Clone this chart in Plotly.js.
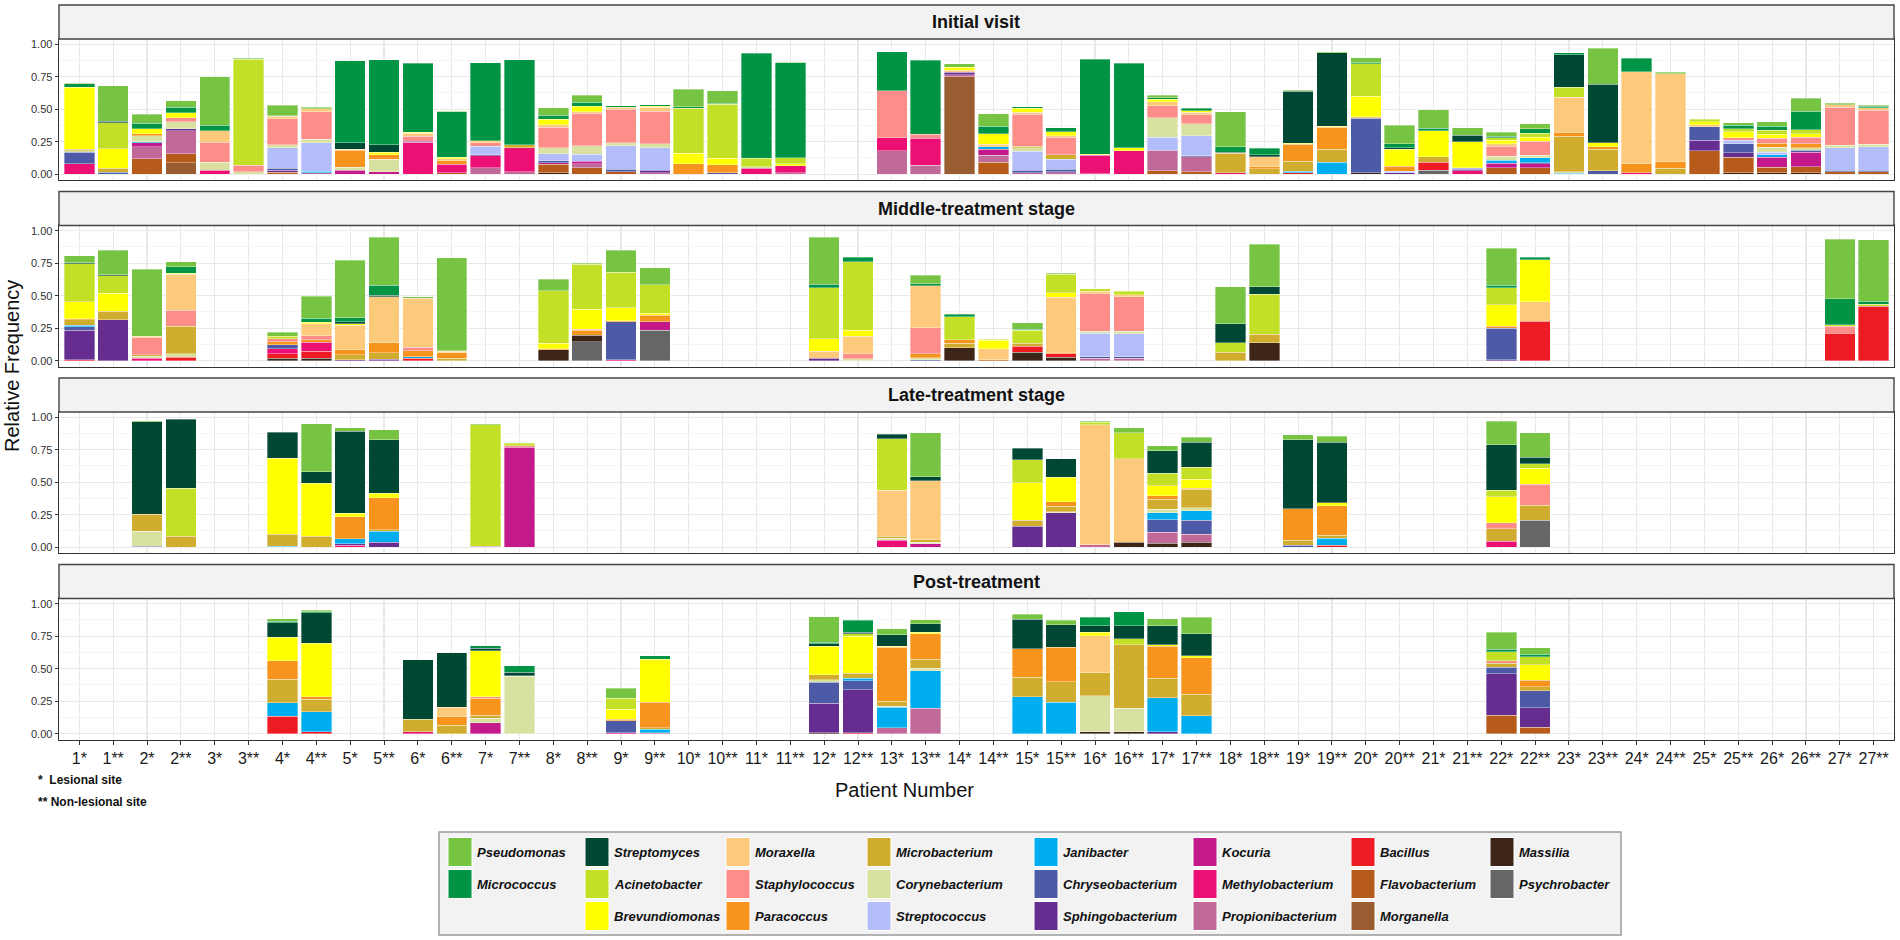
<!DOCTYPE html>
<html>
<head>
<meta charset="utf-8">
<script src="https://cdn.plot.ly/plotly-3.0.1.min.js"></script>
<style>
  html, body { margin: 0; padding: 0; background: #fff; }
  #plot { width: 1900px; height: 940px; }
</style>
</head>
<body>
<div id="plot"></div>
<script>
(function (document, window) {

    // Patient samples (* lesional, ** non-lesional)
    const categories = [
        '1*', '1**', '2*', '2**', '3*', '3**', '4*', '4**', '5*', '5**',
        '6*', '6**', '7*', '7**', '8*', '8**', '9*', '9**', '10*', '10**',
        '11*', '11**', '12*', '12**', '13*', '13**', '14*', '14**', '15*', '15**',
        '16*', '16**', '17*', '17**', '18*', '18**', '19*', '19**', '20*', '20**',
        '21*', '21**', '22*', '22**', '23*', '23**', '24*', '24**', '25*', '25**',
        '26*', '26**', '27*', '27**'
    ];

    // Genera in legend order (first one sits on top of each stack)
    const generaCodes = ['Pseu', 'Micr', 'Strm', 'Acin', 'Brev', 'Mora', 'Stap', 'Para', 'Micb', 'Cory', 'Strc',
        'Jani', 'Chry', 'Sphi', 'Koc', 'Meth', 'Prop', 'Baci', 'Flav', 'Morg', 'Mass', 'Psyc'];
    const generaNames = ['Pseudomonas', 'Micrococcus', 'Streptomyces', 'Acinetobacter', 'Brevundiomonas',
        'Moraxella', 'Staphylococcus', 'Paracoccus', 'Microbacterium', 'Corynebacterium', 'Streptococcus',
        'Janibacter', 'Chryseobacterium', 'Sphingobacterium', 'Kocuria', 'Methylobacterium',
        'Propionibacterium', 'Bacillus', 'Flavobacterium', 'Morganella', 'Massilia', 'Psychrobacter'];
    const generaColors = ['#76c442', '#009444', '#004833', '#c3df26', '#ffff00',
        '#fdc97a', '#fc8d88', '#f7941d', '#d1ad2f', '#d9e1a0', '#b2bdfa',
        '#00aeef', '#4d5ba6', '#652d90', '#c4198b', '#ec0f74',
        '#c16a9a', '#ed1c24', '#b65b1a', '#9a5d31', '#3d2517', '#666666'];

    const stageTitles = ['Initial visit', 'Middle-treatment stage', 'Late-treatment stage', 'Post-treatment'];

    const initialVisit = [
        ['1*', { Meth: .08, Chry: .09, Micb: .01, Cory: .01, Brev: .48, Micr: .025, Pseu: .005 }],
        ['1**', { Chry: .015, Micb: .03, Brev: .15, Acin: .2, Strm: .012, Pseu: .275 }],
        ['2*', { Flav: .12, Prop: .09, Koc: .03, Jani: .01, Cory: .045, Para: .015, Brev: .04, Micr: .04, Pseu: .07 }],
        ['2**', { Morg: .088, Flav: .07, Prop: .175, Sphi: .015, Cory: .055, Stap: .03, Brev: .04, Micr: .04, Pseu: .05 }],
        ['3*', { Meth: .03, Cory: .06, Stap: .155, Mora: .09, Micr: .04, Pseu: .375 }],
        ['3**', { Cory: .02, Stap: .05, Acin: .815, Pseu: .008 }],
        ['4*', { Flav: .015, Sphi: .015, Chry: .015, Strc: .16, Cory: .02, Stap: .2, Mora: .02, Brev: .005, Pseu: .08 }],
        ['4**', { Prop: .012, Jani: .01, Strc: .22, Cory: .025, Stap: .215, Mora: .02, Pseu: .012 }],
        ['5*', { Koc: .03, Cory: .025, Para: .13, Mora: .008, Strm: .05, Micr: .63 }],
        ['5**', { Koc: .02, Cory: .095, Para: .035, Brev: .018, Strm: .06, Micr: .653 }],
        ['6*', { Meth: .245, Sphi: .008, Stap: .04, Mora: .02, Brev: .008, Micr: .532 }],
        ['6**', { Flav: .01, Meth: .065, Para: .03, Mora: .015, Brev: .01, Micr: .35, Pseu: .005 }],
        ['7*', { Prop: .05, Meth: .09, Sphi: .008, Strc: .065, Stap: .03, Mora: .013, Micr: .6 }],
        ['7**', { Prop: .02, Meth: .185, Micb: .02, Micr: .655 }],
        ['8*', { Mass: .012, Flav: .065, Koc: .012, Chry: .013, Strc: .055, Cory: .045, Stap: .16, Mora: .02, Brev: .04, Micr: .03, Pseu: .06 }],
        ['8**', { Flav: .05, Prop: .03, Koc: .02, Strc: .055, Cory: .065, Stap: .25, Mora: .012, Brev: .04, Micr: .03, Pseu: .055 }],
        ['9*', { Flav: .02, Chry: .018, Strc: .18, Cory: .025, Stap: .255, Mora: .018, Micr: .012 }],
        ['9**', { Prop: .012, Sphi: .018, Strc: .175, Cory: .03, Stap: .25, Mora: .03, Brev: .008, Micr: .012 }],
        ['10*', { Para: .082, Brev: .077, Acin: .35, Micr: .01, Pseu: .136 }],
        ['10**', { Chry: .012, Para: .06, Brev: .05, Acin: .415, Micr: .01, Pseu: .093 }],
        ['11*', { Meth: .045, Cory: .012, Acin: .065, Micr: .808 }],
        ['11**', { Prop: .012, Meth: .054, Brev: .015, Acin: .045, Micr: .73, Pseu: .005 }],
        ['13*', { Prop: .18, Meth: .1, Stap: .36, Micr: .303 }],
        ['13**', { Prop: .067, Meth: .21, Stap: .03, Micr: .57 }],
        ['14*', { Morg: .75, Prop: .015, Sphi: .018, Mora: .018, Brev: .02, Pseu: .03 }],
        ['14**', { Flav: .09, Prop: .055, Koc: .045, Jani: .02, Mora: .02, Brev: .08, Micr: .057, Pseu: .098 }],
        ['15*', { Prop: .01, Chry: .02, Strc: .145, Cory: .03, Micb: .01, Stap: .245, Mora: .018, Brev: .028, Micr: .012 }],
        ['15**', { Prop: .01, Sphi: .01, Chry: .018, Strc: .077, Micb: .033, Stap: .135, Mora: .013, Brev: .03, Micr: .033 }],
        ['16*', { Prop: .005, Meth: .14, Brev: .008, Micr: .73 }],
        ['16**', { Meth: .18, Brev: .025, Micr: .65 }],
        ['17*', { Flav: .025, Prop: .155, Sphi: .005, Strc: .1, Cory: .15, Stap: .09, Mora: .033, Brev: .018, Micr: .013, Pseu: .018 }],
        ['17**', { Flav: .018, Prop: .115, Chry: .008, Strc: .155, Cory: .09, Stap: .072, Mora: .018, Brev: .013, Micr: .02 }],
        ['18*', { Meth: .01, Micb: .15, Strm: .008, Micr: .044, Pseu: .27 }],
        ['18**', { Micb: .04, Para: .018, Mora: .077, Strm: .015, Micr: .05 }],
        ['19*', { Baci: .012, Jani: .012, Micb: .077, Para: .128, Brev: .008, Strm: .4, Pseu: .01 }],
        ['19**', { Jani: .09, Micb: .1, Para: .17, Brev: .008, Strm: .565, Pseu: .008 }],
        ['20*', { Mass: .012, Chry: .42, Mora: .01, Brev: .157, Acin: .25, Micr: .01, Pseu: .036 }],
        ['20**', { Sphi: .012, Strc: .01, Para: .04, Brev: .128, Strm: .012, Micr: .032, Pseu: .144 }],
        ['21*', { Psyc: .03, Baci: .06, Micb: .045, Brev: .2, Micr: .018, Pseu: .144 }],
        ['21**', { Meth: .025, Sphi: .012, Strc: .012, Brev: .2, Strm: .05, Pseu: .057 }],
        ['22*', { Flav: .05, Koc: .033, Jani: .023, Cory: .033, Stap: .077, Mora: .018, Brev: .025, Acin: .02, Micr: .013, Pseu: .03 }],
        ['22**', { Flav: .05, Koc: .03, Sphi: .008, Jani: .038, Cory: .02, Stap: .108, Brev: .03, Acin: .03, Micr: .036, Pseu: .038 }],
        ['23*', { Jani: .008, Cory: .012, Micb: .27, Para: .033, Mora: .27, Acin: .077, Strm: .25, Micr: .013 }],
        ['23**', { Chry: .025, Micb: .167, Para: .02, Brev: .03, Strm: .45, Pseu: .278 }],
        ['24*', { Meth: .012, Para: .07, Mora: .707, Micr: .103 }],
        ['24**', { Micb: .046, Para: .051, Mora: .674, Pseu: .013 }],
        ['25*', { Flav: .18, Sphi: .082, Chry: .103, Mora: .015, Brev: .025, Acin: .018 }],
        ['25**', { Mass: .012, Flav: .12, Sphi: .033, Chry: .07, Strc: .025, Stap: .02, Brev: .046, Acin: .025, Micr: .025, Pseu: .02 }],
        ['26*', { Mass: .012, Flav: .04, Koc: .077, Jani: .02, Strc: .018, Cory: .04, Para: .03, Stap: .04, Brev: .03, Acin: .03, Micr: .033, Pseu: .033 }],
        ['26**', { Mass: .012, Flav: .045, Koc: .11, Chry: .018, Cory: .02, Para: .03, Stap: .05, Brev: .025, Acin: .033, Micr: .14, Pseu: .103 }],
        ['27*', { Flav: .02, Chry: .01, Strc: .175, Cory: .018, Stap: .29, Mora: .02, Pseu: .013 }],
        ['27**', { Flav: .02, Chry: .01, Strc: .18, Cory: .02, Stap: .262, Mora: .02, Micr: .01, Pseu: .008 }]
    ];

    const middleTreatment = [
        ['1*', { Baci: .008, Sphi: .225, Chry: .026, Jani: .013, Micb: .044, Para: .008, Brev: .13, Acin: .29, Strm: .01, Pseu: .052 }],
        ['1**', { Sphi: .315, Micb: .065, Brev: .137, Acin: .137, Strm: .008, Pseu: .186 }],
        ['2*', { Meth: .02, Cory: .013, Micb: .013, Stap: .13, Mora: .01, Pseu: .517 }],
        ['2**', { Baci: .026, Cory: .026, Micb: .214, Stap: .12, Mora: .28, Brev: .008, Micr: .05, Pseu: .036 }],
        ['4*', { Mass: .018, Baci: .034, Meth: .04, Chry: .03, Para: .023, Stap: .023, Acin: .018, Pseu: .034 }],
        ['4**', { Mass: .02, Baci: .052, Meth: .07, Para: .018, Stap: .03, Mora: .093, Brev: .013, Micr: .03, Pseu: .168 }],
        ['5*', { Sphi: .008, Micb: .039, Para: .036, Mora: .189, Brev: .013, Strm: .013, Micr: .031, Pseu: .442 }],
        ['5**', { Sphi: .01, Micb: .049, Para: .078, Mora: .354, Strm: .013, Micr: .078, Pseu: .367 }],
        ['6*', { Baci: .02, Jani: .01, Para: .046, Stap: .026, Mora: .38, Pseu: .008 }],
        ['6**', { Micb: .018, Para: .041, Mora: .013, Micr: .005, Pseu: .716 }],
        ['8*', { Mass: .083, Para: .008, Brev: .044, Acin: .403, Pseu: .09 }],
        ['8**', { Psyc: .147, Mass: .047, Para: .039, Stap: .01, Brev: .152, Acin: .346, Pseu: .008 }],
        ['9*', { Meth: .008, Chry: .29, Para: .008, Brev: .1, Acin: .274, Pseu: .168 }],
        ['9**', { Psyc: .233, Koc: .065, Para: .052, Brev: .013, Acin: .22, Pseu: .13 }],
        ['12*', { Sphi: .018, Mora: .054, Brev: .096, Acin: .393, Micr: .028, Pseu: .362 }],
        ['12**', { Cory: .013, Stap: .039, Mora: .134, Brev: .047, Acin: .53, Micr: .034 }],
        ['13**', { Chry: .008, Cory: .013, Para: .031, Stap: .2, Mora: .323, Micr: .016, Pseu: .065 }],
        ['14*', { Mass: .098, Micb: .036, Para: .026, Acin: .176, Micr: .021 }],
        ['14**', { Flav: .008, Mora: .083, Brev: .065, Acin: .008, Micr: .005 }],
        ['15*', { Mass: .065, Baci: .047, Micb: .023, Acin: .098, Micr: .008, Pseu: .049 }],
        ['15**', { Mass: .026, Baci: .026, Para: .013, Mora: .421, Brev: .036, Acin: .142, Pseu: .008 }],
        ['16*', { Prop: .02, Chry: .01, Strc: .181, Cory: .015, Stap: .289, Mora: .018, Acin: .021 }],
        ['16**', { Prop: .02, Chry: .01, Strc: .176, Cory: .02, Stap: .264, Mora: .018, Acin: .026 }],
        ['18*', { Micb: .065, Acin: .072, Strm: .147, Pseu: .284 }],
        ['18**', { Mass: .137, Micb: .065, Acin: .31, Strm: .057, Pseu: .328 }],
        ['22*', { Sphi: .008, Chry: .243, Para: .015, Brev: .165, Acin: .13, Micr: .02, Pseu: .284 }],
        ['22**', { Baci: .302, Mora: .15, Brev: .323, Micr: .02 }],
        ['27*', { Baci: .212, Stap: .052, Acin: .013, Micr: .2, Pseu: .457 }],
        ['27**', { Baci: .42, Acin: .013, Micr: .026, Pseu: .47 }]
    ];

    const lateTreatment = [
        ['2*', { Chry: .008, Cory: .114, Micb: .132, Strm: .711, Pseu: .008 }],
        ['2**', { Micb: .083, Acin: .37, Strm: .532 }],
        ['4*', { Jani: .008, Micb: .09, Brev: .587, Strm: .199 }],
        ['4**', { Micb: .083, Brev: .408, Strm: .09, Pseu: .37 }],
        ['5*', { Meth: .013, Sphi: .013, Jani: .039, Para: .168, Brev: .026, Strm: .633, Pseu: .026 }],
        ['5**', { Sphi: .039, Jani: .085, Micb: .01, Para: .245, Brev: .034, Strm: .413, Pseu: .078 }],
        ['7*', { Prop: .008, Acin: .935, Pseu: .008 }],
        ['7**', { Koc: .77, Stap: .01, Acin: .02 }],
        ['13*', { Meth: .052, Cory: .018, Micb: .015, Mora: .354, Acin: .395, Strm: .036 }],
        ['13**', { Koc: .026, Cory: .013, Micb: .018, Mora: .455, Strm: .031, Pseu: .336 }],
        ['15*', { Sphi: .16, Micb: .047, Brev: .29, Acin: .176, Strm: .09 }],
        ['15**', { Sphi: .264, Cory: .008, Micb: .044, Para: .034, Brev: .189, Strm: .142 }],
        ['16*', { Prop: .02, Mora: .922, Acin: .02, Pseu: .008 }],
        ['16**', { Mass: .039, Mora: .641, Acin: .199, Pseu: .039 }],
        ['17*', { Mass: .031, Prop: .085, Chry: .096, Jani: .052, Cory: .026, Micb: .078, Para: .026, Brev: .078, Acin: .098, Strm: .173, Pseu: .039 }],
        ['17**', { Mass: .036, Prop: .062, Chry: .109, Jani: .072, Cory: .026, Micb: .14, Para: .008, Brev: .07, Acin: .093, Strm: .191, Pseu: .039 }],
        ['19*', { Chry: .013, Micb: .039, Para: .245, Strm: .53, Pseu: .039 }],
        ['19**', { Baci: .013, Jani: .057, Micb: .02, Para: .227, Brev: .026, Strm: .465, Pseu: .044 }],
        ['22*', { Meth: .047, Micb: .096, Stap: .044, Brev: .2, Acin: .052, Strm: .349, Pseu: .181 }],
        ['22**', { Psyc: .207, Micb: .116, Stap: .16, Brev: .124, Acin: .034, Strm: .052, Pseu: .186 }]
    ];

    const postTreatment = [
        ['4*', { Baci: .134, Jani: .103, Micb: .181, Para: .142, Brev: .181, Strm: .111, Micr: .013, Pseu: .018 }],
        ['4**', { Baci: .013, Jani: .155, Micb: .096, Para: .02, Brev: .413, Strm: .233, Micr: .008, Pseu: .01 }],
        ['6*', { Meth: .013, Micb: .098, Strm: .457 }],
        ['6**', { Micb: .065, Para: .065, Mora: .072, Strm: .419 }],
        ['7*', { Koc: .083, Cory: .034, Micb: .026, Para: .129, Stap: .013, Brev: .354, Strm: .02, Micr: .018 }],
        ['7**', { Cory: .44, Micb: .005, Strm: .026, Micr: .052 }],
        ['9*', { Meth: .008, Chry: .09, Para: .013, Brev: .075, Acin: .085, Pseu: .078 }],
        ['9**', { Prop: .008, Jani: .026, Micb: .01, Para: .196, Brev: .333, Micr: .028 }],
        ['12*', { Mass: .008, Sphi: .225, Chry: .163, Cory: .018, Micb: .039, Brev: .22, Strm: .02, Micr: .01, Pseu: .196 }],
        ['12**', { Baci: .008, Sphi: .328, Chry: .072, Jani: .018, Micb: .039, Brev: .284, Acin: .02, Strm: .01, Micr: .093 }],
        ['13*', { Prop: .044, Jani: .158, Cory: .01, Micb: .039, Para: .413, Brev: .008, Strm: .09, Pseu: .044 }],
        ['13**', { Prop: .194, Jani: .289, Cory: .02, Micb: .07, Para: .196, Brev: .01, Strm: .067, Pseu: .031 }],
        ['15*', { Jani: .284, Micb: .15, Para: .22, Strm: .225, Pseu: .039 }],
        ['15**', { Jani: .24, Micb: .16, Para: .266, Strm: .173, Pseu: .034 }],
        ['16*', { Mass: .013, Cory: .279, Micb: .178, Mora: .284, Brev: .026, Strm: .052, Micr: .065 }],
        ['16**', { Mass: .013, Cory: .181, Micb: .491, Acin: .044, Strm: .103, Micr: .106 }],
        ['17*', { Sphi: .013, Jani: .264, Micb: .15, Para: .245, Brev: .013, Strm: .147, Pseu: .052 }],
        ['17**', { Jani: .137, Micb: .165, Para: .284, Brev: .013, Strm: .168, Pseu: .129 }],
        ['22*', { Flav: .14, Sphi: .32, Chry: .05, Micb: .03, Stap: .02, Acin: .07, Micr: .02, Pseu: .13 }],
        ['22**', { Flav: .05, Sphi: .15, Chry: .13, Micb: .03, Para: .05, Brev: .12, Acin: .06, Micr: .02, Pseu: .05 }]
    ];

    const stages = [initialVisit, middleTreatment, lateTreatment, postTreatment];

    // Legend arrangement (columns of the boxed key)
    const legendColumns = [
        ['Pseu', 'Micr'], ['Strm', 'Acin', 'Brev'], ['Mora', 'Stap', 'Para'], ['Micb', 'Cory', 'Strc'],
        ['Jani', 'Chry', 'Sphi'], ['Koc', 'Meth', 'Prop'], ['Baci', 'Flav', 'Morg'], ['Mass', 'Psyc']
    ];

    // ---- geometry (page pixels) ----
    const W = 1900, H = 940;
    const plotL = 59, plotR = 1894;
    const panelTops = [39, 225.5, 412, 598.5];
    const panelH = 141, stripH = 34;
    const px = v => v / W;
    const py = v => 1 - v / H;

    const FONT = 'Liberation Sans Narrow, Arial Narrow, Liberation Sans, Arial, sans-serif';
    const FONT_REG = 'Liberation Sans, Arial, sans-serif';

    const traces = [];
    const layout = {
        width: W, height: H,
        margin: { l: 0, r: 0, t: 0, b: 0 },
        paper_bgcolor: '#fff', plot_bgcolor: '#fff',
        barmode: 'stack', bargap: 0.1,
        showlegend: false,
        font: { family: FONT, color: '#222' },
        shapes: [], annotations: []
    };

    stages.forEach(function (stage, p) {
        const sfx = p === 0 ? '' : String(p + 1);
        const lookup = {};
        stage.forEach(function (s) { lookup[s[0]] = s[1]; });

        // bottom of the stack first
        for (let g = generaCodes.length - 1; g >= 0; g--) {
            const code = generaCodes[g];
            const y = categories.map(c => (lookup[c] && lookup[c][code] != null) ? lookup[c][code] : null);
            if (y.every(v => v === null)) continue;
            traces.push({
                type: 'bar', x: categories, y: y,
                name: generaNames[g],
                xaxis: 'x' + sfx, yaxis: 'y' + sfx,
                marker: { color: generaColors[g], line: { color: 'rgba(255,255,255,0.7)', width: 0.5 } },
                hovertemplate: '%{x}<br>' + generaNames[g] + ': %{y:.3f}<extra></extra>'
            });
        }

        const top = panelTops[p];
        const isBottom = p === stages.length - 1;
        layout['xaxis' + sfx] = {
            domain: [px(plotL), px(plotR)], anchor: 'y' + sfx,
            type: 'category', categoryorder: 'array', categoryarray: categories,
            range: [-0.6, categories.length - 0.4],
            showgrid: true, gridcolor: '#e9e9e9', gridwidth: 1.2,
            showline: true, mirror: true, linecolor: '#333', linewidth: 1.4,
            showticklabels: isBottom, ticks: isBottom ? 'outside' : '', ticklen: 4, tickcolor: '#333',
            tickfont: { size: 16, color: '#1a1a1a', family: FONT },
            zeroline: false, fixedrange: true
        };
        layout['yaxis' + sfx] = {
            domain: [py(top + panelH), py(top)], anchor: 'x' + sfx,
            range: [-0.045, 1.04],
            tickvals: [0, 0.25, 0.5, 0.75, 1], ticktext: ['0.00', '0.25', '0.50', '0.75', '1.00'],
            ticks: 'outside', ticklen: 3, tickcolor: '#333',
            tickfont: { size: 11, color: '#333', family: FONT },
            showgrid: true, gridcolor: '#e9e9e9', gridwidth: 1.2,
            minor: { tickmode: 'array', tickvals: [0.125, 0.375, 0.625, 0.875], showgrid: true, gridcolor: '#f2f2f2', gridwidth: 0.8 },
            showline: true, mirror: true, linecolor: '#333', linewidth: 1.4,
            zeroline: false, fixedrange: true
        };

        // facet strip
        layout.shapes.push({
            type: 'rect', xref: 'paper', yref: 'paper',
            x0: px(plotL), x1: px(plotR), y0: py(top), y1: py(top - stripH),
            fillcolor: '#f2f2f2', line: { color: '#444', width: 1.4 }, layer: 'above'
        });
        layout.annotations.push({
            xref: 'paper', yref: 'paper', x: px((plotL + plotR) / 2), y: py(top - stripH / 2),
            text: '<b>' + stageTitles[p] + '</b>', showarrow: false,
            font: { size: 18, color: '#111', family: FONT }, xanchor: 'center', yanchor: 'middle'
        });
    });

    // axis titles
    layout.annotations.push({
        xref: 'paper', yref: 'paper', x: px(12), y: py(366), textangle: -90,
        text: 'Relative Frequency', showarrow: false,
        font: { size: 20, color: '#111', family: FONT_REG }, xanchor: 'center', yanchor: 'middle'
    });
    layout.annotations.push({
        xref: 'paper', yref: 'paper', x: px(904), y: py(790),
        text: 'Patient Number', showarrow: false,
        font: { size: 20, color: '#111', family: FONT_REG }, xanchor: 'center', yanchor: 'middle'
    });

    // footnotes
    layout.annotations.push({
        xref: 'paper', yref: 'paper', x: px(36), y: py(780), xanchor: 'left', yanchor: 'middle',
        text: '<b>*  Lesional site</b>', showarrow: false, font: { size: 12, color: '#111', family: FONT_REG }
    });
    layout.annotations.push({
        xref: 'paper', yref: 'paper', x: px(36), y: py(802), xanchor: 'left', yanchor: 'middle',
        text: '<b>** Non-lesional site</b>', showarrow: false, font: { size: 12, color: '#111', family: FONT_REG }
    });

    // boxed legend
    const boxL = 439, boxR = 1621, boxT = 832, boxB = 935;
    const colX = [448, 585, 726, 867, 1034, 1193, 1351, 1490];
    const rowY = [852, 884, 916];
    const swW = 24, swH = 29;
    layout.shapes.push({
        type: 'rect', xref: 'paper', yref: 'paper',
        x0: px(boxL), x1: px(boxR), y0: py(boxB), y1: py(boxT),
        fillcolor: '#f2f2f2', line: { color: '#9a9a9a', width: 1.5 }, layer: 'below'
    });
    legendColumns.forEach(function (col, c) {
        col.forEach(function (code, r) {
            const g = generaCodes.indexOf(code);
            layout.shapes.push({
                type: 'rect', xref: 'paper', yref: 'paper',
                x0: px(colX[c]), x1: px(colX[c] + swW), y0: py(rowY[r] + swH / 2), y1: py(rowY[r] - swH / 2),
                fillcolor: generaColors[g], line: { color: '#fff', width: 1 }
            });
            layout.annotations.push({
                xref: 'paper', yref: 'paper', x: px(colX[c] + swW + 3), y: py(rowY[r]),
                xanchor: 'left', yanchor: 'middle', showarrow: false,
                text: '<b><i>' + generaNames[g] + '</i></b>',
                font: { size: 13, color: '#111', family: FONT }
            });
        });
    });

    document.addEventListener('DOMContentLoaded', function () {
        Plotly.newPlot('plot', traces, layout, { displayModeBar: false, staticPlot: true });
    });

})(document, window);
</script>
</body>
</html>
